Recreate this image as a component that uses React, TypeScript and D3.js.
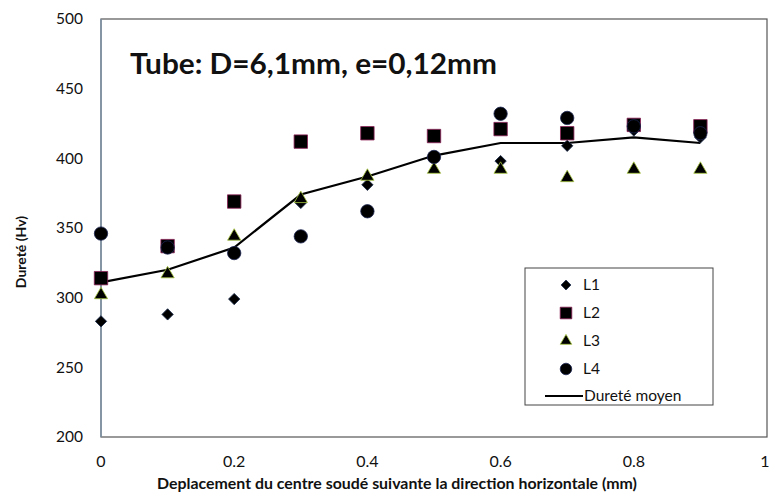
import React from 'react';
import * as d3 from 'd3';

// positions along the weld (mm)
const positions = [0, 0.1, 0.2, 0.3, 0.4, 0.5, 0.6, 0.7, 0.8, 0.9];

// hardness readings (Hv) per line
const l1 = [283, 288, 299, 368, 381, 401, 398, 409, 420, 415];
const l2 = [314, 337, 369, 412, 418, 416, 421, 418, 424, 423];
const l3 = [302, 317, 344, 371, 387, 392, 392, 386, 392, 392];
const l4 = [346, 336, 332, 344, 362, 401, 432, 429, 423, 418];
const mean = [311, 320, 336, 374, 387, 402, 411, 411, 415, 411];

const xTicks = [0, 0.2, 0.4, 0.6, 0.8, 1];
const yTicks = [200, 250, 300, 350, 400, 450, 500];

const W = 769;
const H = 499;
const FONT = 'Lato, "Open Sans", sans-serif';

type Series = {
  name: string;
  values: number[];
  symbol: d3.SymbolType;
  size: number;
  rotate: number;
  stroke: string;
};

const series: Series[] = [
  { name: 'L1', values: l1, symbol: d3.symbolSquare, size: 64, rotate: 45, stroke: '#1a2a4a' },
  { name: 'L2', values: l2, symbol: d3.symbolSquare, size: 180, rotate: 0, stroke: '#8a1f55' },
  { name: 'L3', values: l3, symbol: d3.symbolTriangle, size: 76, rotate: 0, stroke: '#a8c840' },
  { name: 'L4', values: l4, symbol: d3.symbolCircle, size: 140, rotate: 0, stroke: '#1c2450' },
];

const App: React.FC = () => {
  const left = 101;
  const right = 767;
  const top = 19;
  const bottom = 437;

  const x = d3.scaleLinear().domain([0, 1]).range([left, right]);
  const y = d3.scaleLinear().domain([200, 500]).range([bottom, top]);

  const line = d3
    .line<number>()
    .x((_, i) => x(positions[i]))
    .y(d => y(d));

  const legendX = 525;
  const legendY = 268;

  return (
    <div>
      <style>{`body{margin:0}`}</style>
      <svg width={W} height={H} style={{ display: 'block', background: '#fff' }}>
        {/* plot frame */}
        <rect x={left} y={top} width={right - left} height={bottom - top} fill="#fff" stroke="#555" strokeWidth={1.2} />
        <line x1={left} x2={left} y1={top} y2={bottom} stroke="#8094a8" strokeWidth={1.5} />

        {/* y ticks */}
        {yTicks.map(t => (
          <text key={t} x={83} y={y(t)} dy="0.35em" textAnchor="end" fontFamily={FONT} fontSize={15.5} fill="#111">
            {t}
          </text>
        ))}

        {/* x ticks */}
        {xTicks.map(t => (
          <text
            key={t}
            x={t === 1 ? x(t) - 2 : x(t)}
            y={461}
            dy="0.35em"
            textAnchor="middle"
            fontFamily={FONT}
            fontSize={16}
            fill="#111"
          >
            {t === 0 || t === 1 ? t : t.toFixed(1)}
          </text>
        ))}

        {/* axis titles */}
        <text
          x={397}
          y={489}
          textAnchor="middle"
          fontFamily={FONT}
          fontSize={15}
          fontWeight="bold"
          fill="#111"
          textLength={480}
          lengthAdjust="spacingAndGlyphs"
        >
          Deplacement du centre soudé suivante la direction horizontale (mm)
        </text>
        <text
          transform={`translate(26,252) rotate(-90)`}
          textAnchor="middle"
          fontFamily={FONT}
          fontSize={14}
          fontWeight="bold"
          fill="#111"
        >
          Dureté (Hv)
        </text>

        {/* title inside plot */}
        <text
          x={130}
          y={74}
          fontFamily={FONT}
          fontSize={29}
          fontWeight="bold"
          fill="#111"
          textLength={367}
          lengthAdjust="spacingAndGlyphs"
        >
          Tube: D=6,1mm, e=0,12mm
        </text>

        {/* mean line */}
        <path d={line(mean) || ''} fill="none" stroke="#000" strokeWidth={2.2} />

        {/* markers */}
        {series.map(s => {
          const path = d3.symbol().type(s.symbol).size(s.size)() || '';
          return (
            <g key={s.name}>
              {s.values.map((v, i) => (
                <path
                  key={i}
                  d={path}
                  transform={`translate(${x(positions[i])},${y(v)}) rotate(${s.rotate})`}
                  fill="#000"
                  stroke={s.stroke}
                  strokeWidth={0.8}
                />
              ))}
            </g>
          );
        })}

        {/* legend */}
        <rect x={legendX} y={legendY} width={188} height={137} fill="#fff" stroke="#444" strokeWidth={1} />
        {series.map((s, i) => {
          const cy = legendY + 17 + i * 28;
          const path = d3.symbol().type(s.symbol).size(s.size * 0.75)() || '';
          return (
            <g key={s.name}>
              <path d={path} transform={`translate(566,${cy}) rotate(${s.rotate})`} fill="#000" stroke={s.stroke} strokeWidth={0.8} />
              <text x={583} y={cy} dy="0.35em" fontFamily={FONT} fontSize={15.5} fill="#111">
                {s.name}
              </text>
            </g>
          );
        })}
        <line x1={545} x2={583} y1={legendY + 128} y2={legendY + 128} stroke="#000" strokeWidth={2} />
        <text x={584} y={legendY + 128} dy="0.35em" fontFamily={FONT} fontSize={15.5} fill="#111">
          Dureté moyen
        </text>
      </svg>
    </div>
  );
};

export default App;
